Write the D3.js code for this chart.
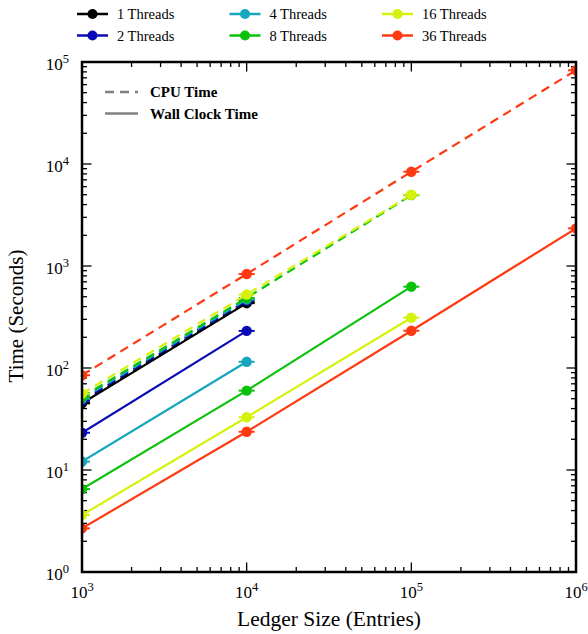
<!DOCTYPE html>
<head>
<meta charset="utf-8">
<style>
  body { margin: 0; background: #fff; }
  svg text { font-family: 'Liberation Serif', 'Times New Roman', serif; fill: #000; }
  .axis-line { fill: none; stroke: #000; stroke-width: 2.5; }
  .tick { stroke: #000; stroke-width: 1.3; }
</style>
<title>Ledger size vs time</title>
</head>
<body>
<svg width="588" height="634"></svg>
<script src="https://cdn.jsdelivr.net/npm/d3@7/dist/d3.min.js"></script>
<script>

// ledger sizes (x values)
var sizes = [1e3, 1e4, 1e5, 1e6];
var threadLabels = ["1 Threads", "2 Threads", "4 Threads", "8 Threads", "16 Threads", "36 Threads"];
var colors = ["#000000", "#0a0ab4", "#16a6be", "#0cc10c", "#d6f20c", "#ff3a12"];

// wall clock seconds, one array per thread count (aligned with sizes)
var wallTimes = [
  [45, 432],
  [23.2, 231],
  [12.1, 115],
  [6.5, 60, 627],
  [3.62, 32.9, 311],
  [2.68, 23.7, 232, 2340]
];
// cpu seconds
var cpuTimes = [
  [46, 440],
  [48, 458],
  [50, 470],
  [52, 486, 4950],
  [56, 525, 5000],
  [85, 835, 8400, 83000]
];

var xTicks = [1e3, 1e4, 1e5, 1e6];
var yTicks = [1e0, 1e1, 1e2, 1e3, 1e4, 1e5];

var svg = d3.select("svg"),
    margin = {top: 62, right: 12, bottom: 62, left: 82},
    width = +svg.attr("width") - margin.left - margin.right,
    height = +svg.attr("height") - margin.top - margin.bottom;

var x = d3.scaleLog().domain([1e3, 1e6]).range([0, width]),
    y = d3.scaleLog().domain([1e0, 1e5]).range([height, 0]);

var g = svg.append("g")
    .attr("transform", "translate(" + margin.left + "," + margin.top + ")");

g.append("clipPath").attr("id", "plotclip")
  .append("rect").attr("width", width).attr("height", height);

// minor + major ticks on all four sides, pointing inwards
function minorTicks(lo, hi) {
  var out = [];
  for (var e = lo; e < hi; e++)
    for (var m = 2; m <= 9; m++) out.push(m * Math.pow(10, e));
  return out;
}
var xMinor = minorTicks(3, 6), yMinor = minorTicks(0, 5);
var ticks = g.append("g");
[[xMinor, 5], [xTicks, 9.5]].forEach(function(t) {
  t[0].forEach(function(v) {
    ticks.append("line").attr("class", "tick")
      .attr("x1", x(v)).attr("x2", x(v)).attr("y1", height).attr("y2", height - t[1]);
    ticks.append("line").attr("class", "tick")
      .attr("x1", x(v)).attr("x2", x(v)).attr("y1", 0).attr("y2", t[1]);
  });
});
[[yMinor, 5], [yTicks, 9.5]].forEach(function(t) {
  t[0].forEach(function(v) {
    ticks.append("line").attr("class", "tick")
      .attr("y1", y(v)).attr("y2", y(v)).attr("x1", 0).attr("x2", t[1]);
    ticks.append("line").attr("class", "tick")
      .attr("y1", y(v)).attr("y2", y(v)).attr("x1", width).attr("x2", width - t[1]);
  });
});

// tick labels 10^n
function powLabel(sel, v) {
  var t = sel.append("text").style("font-size", "17px");
  t.append("tspan").text("10");
  t.append("tspan").attr("dy", -7.5).style("font-size", "12.5px").text(Math.round(Math.log10(v)));
  return t;
}
xTicks.forEach(function(v) {
  powLabel(g, v).attr("x", x(v)).attr("y", height + 26).attr("text-anchor", "middle");
});
yTicks.forEach(function(v) {
  powLabel(g, v).attr("x", -13).attr("y", y(v) + 8).attr("text-anchor", "end");
});

// series
var plot = g.append("g").attr("clip-path", "url(#plotclip)");
var line = d3.line()
  .x(function(d) { return x(d[0]); })
  .y(function(d) { return y(d[1]); });

function pts(arr) {
  return arr.map(function(v, i) { return [sizes[i], v]; });
}

threadLabels.forEach(function(lab, i) {
  [[cpuTimes[i], "9,6"], [wallTimes[i], null]].forEach(function(s) {
    var p = pts(s[0]);
    plot.append("path").datum(p)
      .attr("d", line)
      .attr("fill", "none")
      .attr("stroke", colors[i])
      .attr("stroke-width", 2.2)
      .attr("stroke-dasharray", s[1]);
    plot.selectAll(null).data(p).enter().append("line")
      .attr("x1", function(d) { return x(d[0]) - 8; })
      .attr("x2", function(d) { return x(d[0]) + 8; })
      .attr("y1", function(d) { return y(d[1]); })
      .attr("y2", function(d) { return y(d[1]); })
      .attr("stroke", colors[i]).attr("stroke-width", 2);
    plot.selectAll(null).data(p).enter().append("circle")
      .attr("cx", function(d) { return x(d[0]); })
      .attr("cy", function(d) { return y(d[1]); })
      .attr("r", 5.2)
      .attr("fill", colors[i]);
  });
});

// frame
g.append("rect").attr("class", "axis-line").attr("width", width).attr("height", height);

// axis titles
svg.append("text")
  .attr("x", margin.left + width / 2).attr("y", 626)
  .attr("text-anchor", "middle").style("font-size", "21.5px")
  .text("Ledger Size (Entries)");
svg.append("text")
  .attr("transform", "translate(23," + (margin.top + height / 2 - 1) + ") rotate(-90)")
  .attr("text-anchor", "middle").style("font-size", "21px")
  .text("Time (Seconds)");

// top legend, 3 columns x 2 rows
var legend = svg.append("g");
threadLabels.forEach(function(lab, i) {
  var col = Math.floor(i / 2), row = i % 2;
  var lx = 77 + col * 152.5, ly = 14 + row * 21.5;
  legend.append("line")
    .attr("x1", lx).attr("x2", lx + 31).attr("y1", ly).attr("y2", ly)
    .attr("stroke", colors[i]).attr("stroke-width", 2.5);
  legend.append("circle").attr("cx", lx + 15.5).attr("cy", ly).attr("r", 5).attr("fill", colors[i]);
  legend.append("text").attr("x", lx + 40).attr("y", ly + 5)
    .style("font-size", "14.5px").text(lab);
});

// line style legend inside plot
[["CPU Time", "9,6", 92], ["Wall Clock Time", null, 113.5]].forEach(function(s) {
  svg.append("line")
    .attr("x1", 105).attr("x2", 138).attr("y1", s[2]).attr("y2", s[2])
    .attr("stroke", "#808080").attr("stroke-width", 2.6)
    .attr("stroke-dasharray", s[1]);
  svg.append("text").attr("x", 150).attr("y", s[2] + 5)
    .style("font-size", "15px").style("font-weight", "bold").text(s[0]);
});

</script>
</body>
